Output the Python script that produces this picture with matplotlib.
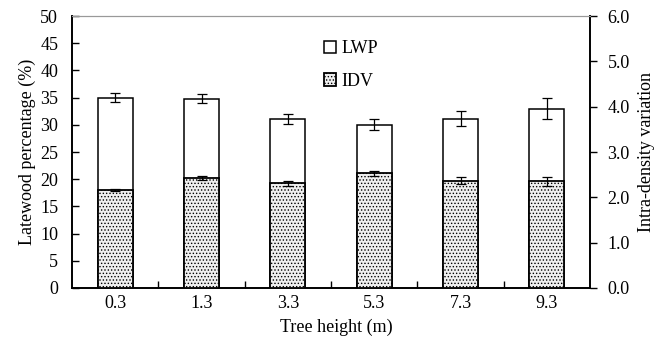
import matplotlib
matplotlib.use("Agg")
import matplotlib.pyplot as plt
import numpy as np

plt.rcParams['font.family'] = ['Liberation Serif', 'DejaVu Serif']
plt.rcParams['hatch.color'] = '#c0c0c0'
plt.rcParams['hatch.linewidth'] = 0.6

heights = ['0.3', '1.3', '3.3', '5.3', '7.3', '9.3']
lwp = [35.0, 34.8, 31.1, 30.0, 31.1, 33.0]
lwp_err = [0.85, 0.85, 0.95, 1.0, 1.4, 1.95]
idv = [2.16, 2.43, 2.31, 2.53, 2.37, 2.35]
idv_err = [0.03, 0.05, 0.06, 0.06, 0.07, 0.09]

fs = 13

fig = plt.figure(figsize=(6.55, 3.42), dpi=100)
ax = fig.add_axes([0.110, 0.158, 0.791, 0.795])
ax2 = ax.twinx()

x = np.arange(len(heights))
w = 0.405
ax.bar(x, lwp, width=w, color='white', edgecolor='black', linewidth=1.1,
       yerr=lwp_err, capsize=3.5, error_kw=dict(elinewidth=0.9, capthick=0.9, ecolor='black'),
       label='LWP', zorder=2)
ax2.bar(x, idv, width=w, color='#efefef', edgecolor='black', linewidth=1.3, hatch='.....',
        yerr=idv_err, capsize=3.5, error_kw=dict(elinewidth=0.9, capthick=0.9, ecolor='black'),
        label='IDV', zorder=3)

ax.set_xlim(-0.5, len(heights) - 0.5)
ax.set_ylim(0, 50)
ax2.set_ylim(0, 6)
ax.set_yticks(np.arange(0, 51, 5))
ax2.set_yticks(np.arange(0, 6.1, 1.0))
ax2.set_yticklabels([f'{v:.1f}' for v in np.arange(0, 6.1, 1.0)])

ax.set_xticks(x)
ax.set_xticklabels(heights)
ax.set_xticks(np.arange(0.5, len(heights) - 0.5, 1), minor=True)
ax.tick_params(axis='x', which='major', length=0, labelsize=fs, pad=5)
ax.tick_params(axis='x', which='minor', direction='in', length=5, width=1)
ax.tick_params(axis='y', direction='in', length=5, width=1, labelsize=fs, pad=10)
ax2.tick_params(axis='y', direction='out', length=5, width=1, labelsize=fs, pad=7.5)

ax.set_xlabel('Tree height (m)', fontsize=fs, labelpad=5)
ax.xaxis.label.set_x(0.51)
ax.set_ylabel('Latewood percentage (%)', fontsize=fs, labelpad=3)
ax2.set_ylabel('Intra-density variation', fontsize=fs, labelpad=6)

for a in (ax, ax2):
    a.spines['top'].set_color('#999999')
    a.spines['left'].set_linewidth(1.2)
    a.spines['bottom'].set_linewidth(1.2)
    a.spines['right'].set_linewidth(1.2)

h1, l1 = ax.get_legend_handles_labels()
h2, l2 = ax2.get_legend_handles_labels()
leg = ax2.legend(h1 + h2, l1 + l2, loc='upper left', bbox_to_anchor=(0.455, 0.97),
                 frameon=False, fontsize=fs, handlelength=0.65, handleheight=0.65,
                 handletextpad=0.3, labelspacing=0.85)

fig.savefig('out.png', dpi=100)
